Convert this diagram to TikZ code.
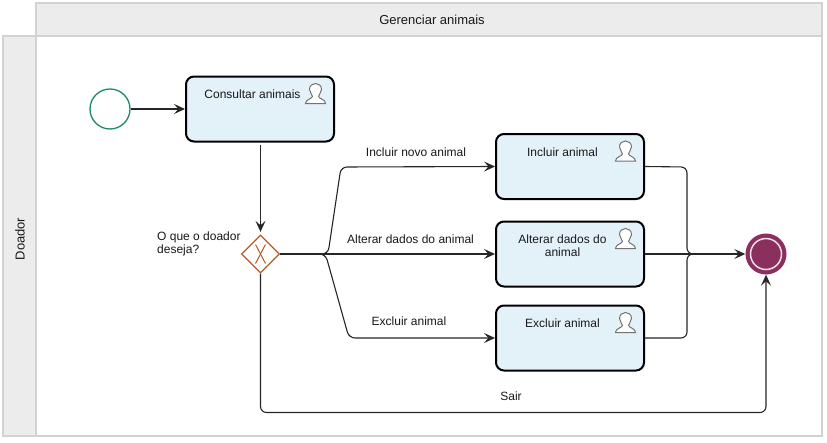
\documentclass[tikz,border=0pt]{standalone}
\usepackage{fontspec}
\setmainfont{Liberation Sans}
\usetikzlibrary{arrows.meta,shapes.geometric}

\definecolor{laneline}{HTML}{D2D2D2}
\definecolor{lanefill}{HTML}{ECECEC}
\definecolor{taskfill}{HTML}{E3F1F9}
\definecolor{startline}{HTML}{1F8A6B}
\definecolor{endfill}{HTML}{8B2F5F}
\definecolor{gateline}{HTML}{B85A27}

\tikzset{
	lane/.style={draw=laneline,line width=1.5pt,fill=lanefill},
	txt/.style={font=\fontsize{12}{13}\selectfont,text=black!90,inner sep=0pt,align=center},
	lanetxt/.style={font=\fontsize{13}{14}\selectfont,text=black!90,inner sep=0pt},
	task/.style={draw=black,line width=2pt,fill=taskfill,rounded corners=8pt,minimum width=148pt,minimum height=65pt},
	flow/.style={draw=black!85,line width=1.1pt,rounded corners=6pt,-{Stealth[length=11pt,width=10pt,inset=4.5pt]}},
	plain/.style={draw=black!85,line width=1.1pt,rounded corners=6pt},
	usericon/.pic={
		\draw[black!55,line width=1pt,fill=white] (-10,10) .. controls (-10,6) and (-4,5.5) .. (-3,3) .. controls (-3,1) and (-6,-1) .. (-6,-4) .. controls (-6,-8) and (-3,-10) .. (0,-10) .. controls (3,-10) and (6,-8) .. (6,-4) .. controls (6,-1) and (3,1) .. (3,3) .. controls (4,5.5) and (10,6) .. (10,10) -- cycle;
	}
}

\begin{document}
\begin{tikzpicture}[x=1pt,y=-1pt]
	\useasboundingbox (0,0) rectangle (827,442);

	\draw[draw=laneline,line width=1.5pt,fill=white] (36,36) rectangle (822,436);
	\draw[lane] (36,3) rectangle (822,36);
	\draw[lane] (3,36) rectangle (36,436);
	\node[lanetxt] (title) at (432,20) {Gerenciar animais};
	\node[lanetxt,rotate=90] (doador) at (20,239) {Doador};

	\node[circle,draw=startline,line width=1.3pt,fill=white,minimum size=40pt,inner sep=0pt] (start) at (110,109) {};
	\node[task] (consultar) at (260,109) {};
	\node[task] (incluir) at (570,166.5) {};
	\node[task] (alterar) at (570,254) {};
	\node[task] (excluir) at (570,338) {};

	\node[txt] (consultartxt) at (252.5,94) {Consultar animais};
	\node[txt] (incluirtxt) at (562.5,152) {Incluir animal};
	\node[txt] (alterartxt) at (562.5,245.5) {Alterar dados do\\animal};
	\node[txt] (excluirtxt) at (562.5,323.5) {Excluir animal};

	\foreach \t in {consultar,incluir,alterar,excluir}
		\pic at ([shift={(55.5,-15.5)}]\t.center) {usericon};

	\node[diamond,aspect=1,draw=gateline,line width=1.3pt,fill=white,minimum width=38pt,minimum height=38pt,inner sep=0pt] (gate) at (260.5,254) {};
	\draw[gateline,line width=1pt] ([shift={(-5,-9.5)}]gate.center) .. controls ([shift={(-1,-2)}]gate.center) and ([shift={(1,2)}]gate.center) .. ([shift={(5,9.5)}]gate.center);
	\draw[gateline,line width=1pt] ([shift={(5,-9.5)}]gate.center) .. controls ([shift={(1,-2)}]gate.center) and ([shift={(-1,2)}]gate.center) .. ([shift={(-5,9.5)}]gate.center);

	\node[circle,fill=endfill,minimum size=41pt,inner sep=0pt] (end) at (766,254) {};
	\node[circle,draw=white!85!endfill,line width=1.5pt,fill=endfill,minimum size=31pt,inner sep=0pt] (endcore) at (end) {};

	\coordinate (split) at (322,254);
	\coordinate (merge) at (687,254);
	\coordinate (leave) at (gate.north |- consultar.south);

	\draw[flow] (start) -- (consultar);
	\draw[flow,shorten >=2.5pt] (leave) ++(0,2) -- (gate.north);
	\draw[flow] (gate.east) -- (328,254) -- (341,167) -- (incluir.west);
	\draw[flow] (gate.east) -- (alterar.west);
	\draw[flow] (gate.east) -- (325.5,254) -- (349,338) -- (excluir.west);
	\draw[plain,line width=2pt] (gate.east) -- (split);
	\draw[plain] (incluir.east) -- (687,167) -- (merge) -- ++(10,0);
	\draw[flow] (alterar.east) -- (end.west);
	\draw[plain] (excluir.east) -- (687,338) -- (merge) -- ++(10,0);
	\draw[plain,line width=1.8pt] (merge) -- (738,254);
	\draw[flow] (gate.south) -- (260.5,412.5) -- (766,412.5) -- (end.south);

	\node[txt] (lblincluir) at (416,152) {Incluir novo animal};
	\node[txt] (lblalterar) at (410.5,239) {Alterar dados do animal};
	\node[txt] (lblexcluir) at (409,321) {Excluir animal};
	\node[txt] (lblsair) at (511,396) {Sair};
	\node[txt,align=left,anchor=north west] (lblgate) at (157,231.5) {O que o doador\\deseja?};
\end{tikzpicture}
\end{document}
